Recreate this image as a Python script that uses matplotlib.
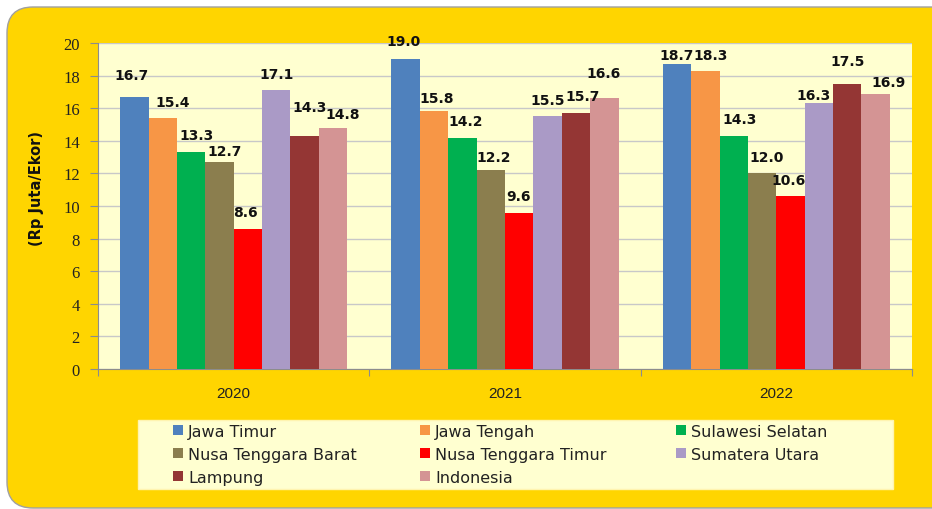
import matplotlib
matplotlib.use('Agg')
import matplotlib.pyplot as plt
import matplotlib.transforms as mtransforms
from matplotlib.patches import FancyBboxPatch, Rectangle
import numpy as np

years = ['2020', '2021', '2022']
regions = ['Jawa Timur', 'Jawa Tengah', 'Sulawesi Selatan', 'Nusa Tenggara Barat',
           'Nusa Tenggara Timur', 'Sumatera Utara', 'Lampung', 'Indonesia']
jawa_timur = [16.7, 19.0, 18.7]
jawa_tengah = [15.4, 15.8, 18.3]
sulsel = [13.3, 14.2, 14.3]
ntb = [12.7, 12.2, 12.0]
ntt = [8.6, 9.6, 10.6]
sumut = [17.1, 15.5, 16.3]
lampung = [14.3, 15.7, 17.5]
indonesia = [14.8, 16.6, 16.9]
series = [jawa_timur, jawa_tengah, sulsel, ntb, ntt, sumut, lampung, indonesia]

colors = ['#4F81BD', '#F79646', '#00B050', '#8B7E4E',
          '#FF0000', '#AA9AC6', '#943634', '#D49494']

# label nudges in pixels (dx, dy above bar top), per series then per year
nudge_dx = [[-3, -2, 0], [10, 3, 5], [5, 3, 6], [5, 3, 4],
            [-2, -1, -2], [0, 0, -5], [5, 7, 0], [10, -1, 13]]
nudge_dy = [[22, 18, 9], [16, 13, 16], [17, 17, 17], [11, 13, 16],
            [17, 17, 16], [16, 16, 8], [29, 17, 23], [14, 25, 12]]

W, H = 932, 510
fig = plt.figure(figsize=(W / 100, H / 100), dpi=100)
fig.patch.set_facecolor('white')

# gold rounded panel
panel = FancyBboxPatch((7, 1), 990, 501, boxstyle='round,pad=0,rounding_size=26',
                       transform=mtransforms.IdentityTransform(),
                       facecolor='#FFD500', edgecolor='#A0A0A0', linewidth=1, zorder=-5)
fig.patches.append(panel)

ax = fig.add_axes([98 / W, (H - 370) / H, (912 - 98) / W, (370 - 44) / H])
ax.set_zorder(2)
ax.set_facecolor('#FFFFD0')

x = np.arange(len(years))
bw = 0.837 / len(series)
for i, (vals, c) in enumerate(zip(series, colors)):
    pos = x - 4 * bw + (i + 0.5) * bw
    ax.bar(pos, vals, width=bw, color=c, zorder=3, label=regions[i])
    for j, v in enumerate(vals):
        ax.annotate(f'{v:.1f}', (pos[j], v), xytext=(nudge_dx[i][j], nudge_dy[i][j]),
                    textcoords='offset pixels', ha='center', va='center',
                    fontsize=10, fontweight='bold', color='#111111',
                    family='DejaVu Sans', zorder=5)

ax.set_xlim(-0.5, 2.5)
ax.set_ylim(0, 20)
ax.set_yticks(np.arange(0, 21, 2))
ax.yaxis.grid(True, color='#C8C8C8', linewidth=1, zorder=0)
ax.tick_params(axis='y', direction='out', length=6, color='#8C8C8C', pad=7,
               labelsize=12, labelcolor='#222222')
for t in ax.get_yticklabels():
    t.set_family('Liberation Serif')

ax.set_xticks([-0.5, 0.5, 1.5, 2.5])
ax.set_xticklabels([])
ax.tick_params(axis='x', which='major', direction='out', length=5, color='#8C8C8C')
ax.set_xticks(x, minor=True)
ax.set_xticklabels(years, minor=True, fontsize=11, family='Liberation Sans', color='#222222')
ax.tick_params(axis='x', which='minor', length=0, pad=12)

for s in ['top', 'right']:
    ax.spines[s].set_visible(False)
for s in ['left', 'bottom']:
    ax.spines[s].set_color('#8C8C8C')

fig.text(37 / W, 1 - 188 / H, '(Rp Juta/Ekor)', rotation=90, ha='center', va='center',
         fontsize=10.5, fontweight='bold', color='#111111')

# legend box
fig.patches.append(Rectangle((138 / W, 1 - 490 / H), (893 - 138) / W, (490 - 421) / H,
                             transform=fig.transFigure, facecolor='#FFFFD0',
                             edgecolor='#FFF4B0', linewidth=1, zorder=1))

handles, labels = ax.get_legend_handles_labels()
col_x = [173, 420, 676]
cols = [[0, 3, 6], [1, 4, 7], [2, 5]]
for cx, idx in zip(col_x, cols):
    fig.legend([handles[k] for k in idx], [labels[k] for k in idx],
               loc='upper left', bbox_to_anchor=(cx / W, 1 - 425 / H),
               frameon=False, fontsize=11.5, handlelength=0.6, handleheight=0.6,
               handletextpad=0.35, labelspacing=0.5, borderpad=0, borderaxespad=0,
               labelcolor='#222222')

fig.savefig('out.png', dpi=100)
